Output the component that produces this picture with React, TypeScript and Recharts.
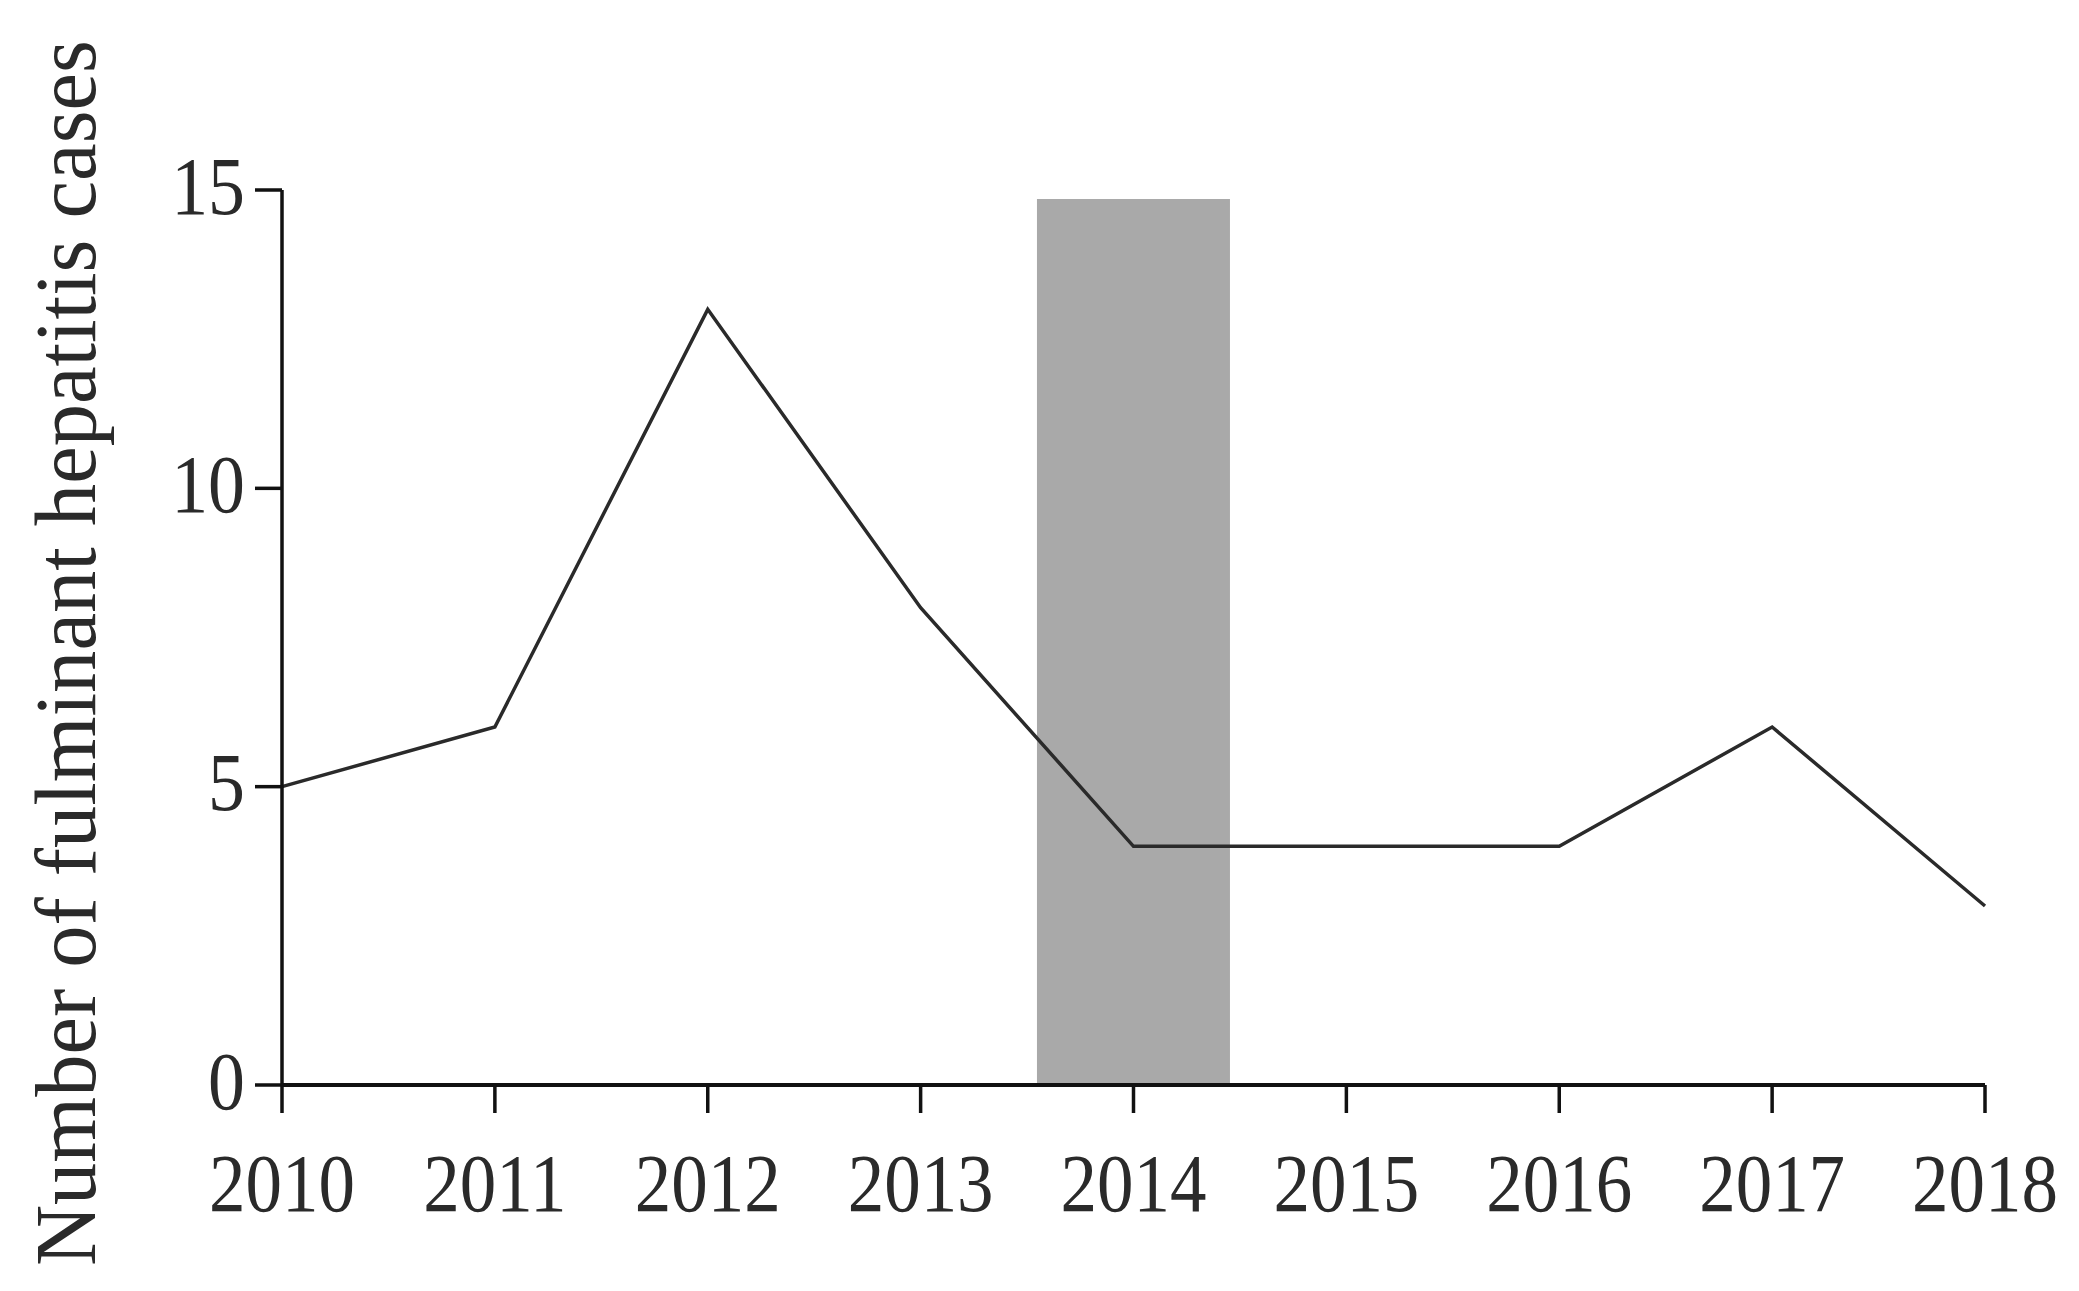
import React from 'react';
import { ComposedChart, Bar, Line, XAxis, YAxis } from 'recharts';

const years = [2010, 2011, 2012, 2013, 2014, 2015, 2016, 2017, 2018];
const cases = [5, 6, 13, 8, 4, 4, 4, 6, 3];
// shaded period (single year band)
const shadedYear = 2014;
const shadedHeight = 14.85;
const yTicks = [0, 5, 10, 15];

const data = years.map((year, i) => ({
  year,
  cases: cases[i],
  shade: year === shadedYear ? shadedHeight : null,
}));

const FONT = '"Liberation Serif", "Times New Roman", serif';

function XTick(props: any): React.ReactElement {
  const { x, y, payload } = props;
  return (
    <g transform={`translate(${x},${y}) scale(0.89,1)`}>
      <text x={0} y={0} dy="0.71em" textAnchor="middle" fontFamily={FONT} fontSize={82} fill="#2a2a2a">
        {payload.value}
      </text>
    </g>
  );
}

function YTick(props: any): React.ReactElement {
  const { x, y, payload } = props;
  return (
    <g transform={`translate(${x},${y}) scale(0.9,1)`}>
      <text x={0} y={0} dy="0.29em" textAnchor="end" fontFamily={FONT} fontSize={82} fill="#2a2a2a">
        {payload.value}
      </text>
    </g>
  );
}

function YLabel(): React.ReactElement {
  return (
    <text
      x={95}
      y={653}
      transform="rotate(-90 95 653)"
      textAnchor="middle"
      fontFamily={FONT}
      fontSize={86}
      fill="#2a2a2a"
      textLength={1226}
      lengthAdjust="spacingAndGlyphs"
    >
      Number of fulminant hepatitis cases
    </text>
  );
}

export default function App(): React.ReactElement {
  return (
    <div style={{ position: 'absolute', left: 0, top: 0, background: '#fff' }}>
      <ComposedChart
        width={2079}
        height={1291}
        data={data}
        margin={{ top: 190, right: 94, bottom: 106, left: 182 }}
        barCategoryGap="4.65%"
      >
        <XAxis
          dataKey="year"
          type="number"
          domain={[2010, 2018]}
          ticks={years}
          interval={0}
          height={100}
          tickSize={28}
          tickMargin={40}
          axisLine={{ stroke: '#111', strokeWidth: 4 }}
          tickLine={{ stroke: '#111', strokeWidth: 3.5 }}
          tick={<XTick />}
        />
        <YAxis
          type="number"
          domain={[0, 15]}
          ticks={yTicks}
          interval={0}
          width={100}
          tickSize={27}
          tickMargin={10}
          axisLine={{ stroke: '#111', strokeWidth: 3.5 }}
          tickLine={{ stroke: '#111', strokeWidth: 3.5 }}
          tick={<YTick />}
          label={<YLabel />}
        />
        <Bar dataKey="shade" fill="#a9a9a9" isAnimationActive={false} />
        <Line
          type="linear"
          dataKey="cases"
          stroke="#2a2a2a"
          strokeWidth={3.5}
          dot={false}
          activeDot={false}
          isAnimationActive={false}
        />
      </ComposedChart>
    </div>
  );
}
